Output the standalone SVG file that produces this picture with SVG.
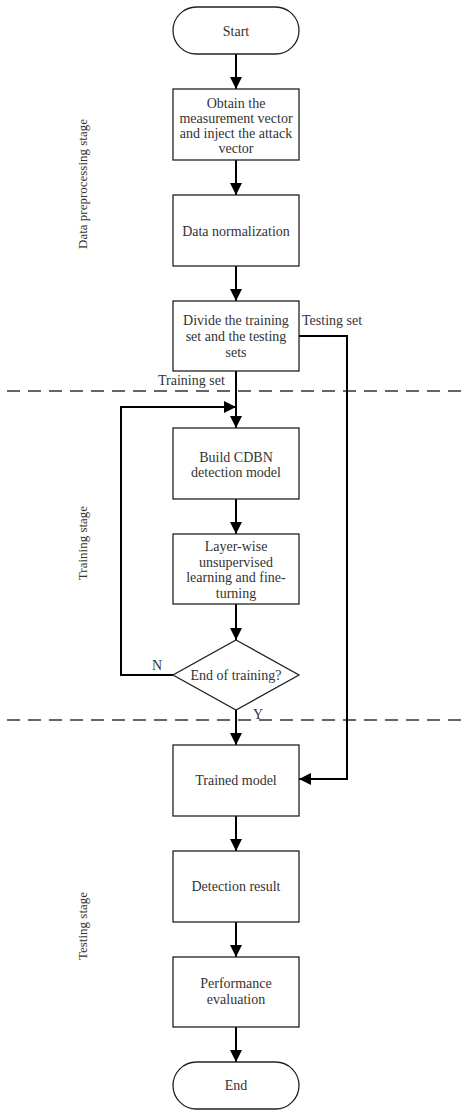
<svg xmlns="http://www.w3.org/2000/svg" width="472" height="1117" viewBox="0 0 472 1117">
<style>
.box{fill:#fff;stroke:#222;stroke-width:1.3}
.t{font-family:"Liberation Serif","Times New Roman",serif;font-size:14px;fill:#333;text-anchor:middle;dominant-baseline:central}
.s{font-family:"Liberation Serif","Times New Roman",serif;font-size:13px;fill:#333;text-anchor:middle;dominant-baseline:central}
.l{font-family:"Liberation Serif","Times New Roman",serif;font-size:14px;fill:#333}
.c{fill:none;stroke:#000;stroke-width:2}
.d{fill:none;stroke:#333;stroke-width:1.5;stroke-dasharray:13 8}
</style>
<defs>
<marker id="a" markerWidth="12" markerHeight="12" viewBox="0 0 12 12" refX="12" refY="6" orient="auto" markerUnits="userSpaceOnUse">
<path d="M0,0 L12,6 L0,12 z" fill="#000"/>
</marker>
</defs>
<rect width="472" height="1117" fill="#fff"/>
<g id="dividers">
<line class="d" x1="7" y1="391" x2="467" y2="391"/>
<line class="d" x1="7" y1="720" x2="467" y2="720"/>
</g>
<g id="stages">
<text class="s" transform="translate(82,184) rotate(-90)">Data preprocessing stage</text>
<text class="s" transform="translate(82,543) rotate(-90)">Training stage</text>
<text class="s" transform="translate(82,926) rotate(-90)">Testing stage</text>
</g>
<g id="connectors">
<line class="c" x1="236" y1="54" x2="236" y2="89" marker-end="url(#a)"/>
<line class="c" x1="236" y1="160" x2="236" y2="195" marker-end="url(#a)"/>
<line class="c" x1="236" y1="266" x2="236" y2="301" marker-end="url(#a)"/>
<line class="c" x1="236" y1="371" x2="236" y2="428" marker-end="url(#a)"/>
<line class="c" x1="236" y1="499" x2="236" y2="534" marker-end="url(#a)"/>
<line class="c" x1="236" y1="604" x2="236" y2="640" marker-end="url(#a)"/>
<polyline class="c" points="173,675 121,675 121,407 236,407" marker-end="url(#a)"/>
<line class="c" x1="236" y1="710" x2="236" y2="745" marker-end="url(#a)"/>
<polyline class="c" points="299,336 347,336 347,779 299,779" marker-end="url(#a)"/>
<line class="c" x1="236" y1="816" x2="236" y2="851" marker-end="url(#a)"/>
<line class="c" x1="236" y1="922" x2="236" y2="957" marker-end="url(#a)"/>
<line class="c" x1="236" y1="1027" x2="236" y2="1062" marker-end="url(#a)"/>
<text class="l" x="302" y="325">Testing set</text>
<text class="l" x="158" y="385">Training set</text>
<text class="l" x="152" y="670">N</text>
<text class="l" x="253" y="719">Y</text>
</g>
<g id="start">
<rect class="box" x="173" y="7" width="126" height="47" rx="23.5"/>
<text class="t" x="236" y="31">Start</text>
</g>
<g id="obtain">
<rect class="box" x="173" y="89" width="126" height="71"/>
<text class="t" x="236" y="103">Obtain the</text>
<text class="t" x="236" y="118">measurement vector</text>
<text class="t" x="236" y="133">and inject the attack</text>
<text class="t" x="236" y="148">vector</text>
</g>
<g id="normalize">
<rect class="box" x="173" y="195" width="126" height="71"/>
<text class="t" x="236" y="231">Data normalization</text>
</g>
<g id="divide">
<rect class="box" x="173" y="301" width="126" height="70"/>
<text class="t" x="236" y="320">Divide the training</text>
<text class="t" x="236" y="336">set and the testing</text>
<text class="t" x="236" y="352">sets</text>
</g>
<g id="build">
<rect class="box" x="173" y="428" width="126" height="71"/>
<text class="t" x="236" y="457">Build CDBN</text>
<text class="t" x="236" y="472">detection model</text>
</g>
<g id="layer">
<rect class="box" x="173" y="534" width="126" height="70"/>
<text class="t" x="236" y="546">Layer-wise</text>
<text class="t" x="236" y="562">unsupervised</text>
<text class="t" x="236" y="577">learning and fine-</text>
<text class="t" x="236" y="593">turning</text>
</g>
<g id="decision">
<polygon class="box" points="236,640 299,675 236,710 173,675"/>
<text class="t" x="236" y="675">End of training?</text>
</g>
<g id="trained">
<rect class="box" x="173" y="745" width="126" height="71"/>
<text class="t" x="236" y="780">Trained model</text>
</g>
<g id="detect">
<rect class="box" x="173" y="851" width="126" height="71"/>
<text class="t" x="236" y="886">Detection result</text>
</g>
<g id="perf">
<rect class="box" x="173" y="957" width="126" height="70"/>
<text class="t" x="236" y="983">Performance</text>
<text class="t" x="236" y="999">evaluation</text>
</g>
<g id="end">
<rect class="box" x="173" y="1062" width="126" height="47" rx="23.5"/>
<text class="t" x="236" y="1085">End</text>
</g>
</svg>
